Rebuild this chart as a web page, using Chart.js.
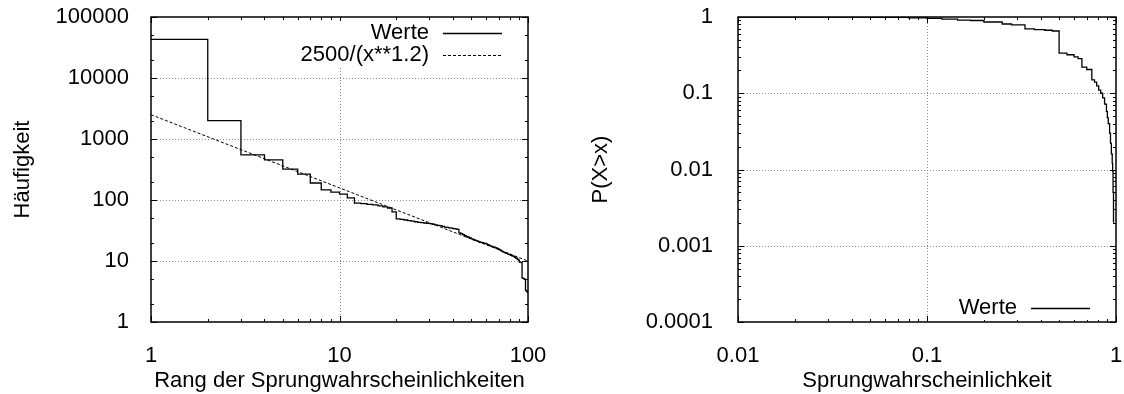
<!DOCTYPE html>
<html>
<head>
<meta charset="utf-8">
<script src="https://cdn.jsdelivr.net/npm/chart.js@4.4.1/dist/chart.umd.min.js"></script>
<style>
  html, body { margin: 0; padding: 0; background: #fff; }
  #wrap { position: relative; width: 1124px; height: 394px; }
  canvas { position: absolute; top: 0; }
</style>
</head>
<body>
<div id="wrap">
  <canvas id="rangPlot" width="562" height="394" style="left:0"></canvas>
  <canvas id="vertPlot" width="562" height="394" style="left:562px"></canvas>
</div>
<script>
// --- Rang der Sprungwahrscheinlichkeiten vs. Häufigkeit ---
const rang = [
  1, 2, 3, 4, 5, 6, 7, 8, 9, 10,
  11, 12, 13, 14, 15, 16, 17, 18, 19, 20,
  21, 22, 23, 24, 25, 26, 27, 28, 29, 30,
  31, 32, 33, 34, 35, 36, 37, 38, 39, 40,
  41, 42, 43, 44, 45, 46, 47, 48, 49, 50,
  51, 52, 53, 54, 55, 56, 57, 58, 59, 60,
  61, 62, 63, 64, 65, 66, 67, 68, 69, 70,
  71, 72, 73, 74, 75, 76, 77, 78, 79, 80,
  81, 82, 83, 84, 85, 86, 87, 88, 89, 90,
  91, 92, 93, 94, 95, 96, 97, 98, 99, 100
];
const haeufigkeit = [
  43000, 2000, 550, 455, 320, 265, 190, 146, 135, 125,
  108, 89, 87, 85, 83, 80, 77, 74, 64, 49,
  48, 47, 46, 45, 44, 43, 42.5, 42, 41.5, 41,
  40, 39, 38.5, 38, 37, 36, 35.5, 35, 34.5, 34,
  33.5, 33, 29, 28, 27, 26, 25, 24.5, 24, 23,
  22.5, 22, 21.5, 21, 20.5, 20.2, 20, 19.7, 19.4, 19,
  18.5, 18, 17.7, 17.4, 17, 16.8, 16.5, 16.2, 16, 15.5,
  15, 14.6, 14.2, 14, 13.7, 13.5, 13.3, 13, 12.8, 12.6,
  12.4, 12.2, 12, 11.8, 11.5, 11.2, 11, 10.6, 10.3, 9.6,
  9.5, 9.4, 5.3, 5.2, 5.1, 5, 3.3, 3.2, 3.1, 3
];
const fitX = [1, 10, 100];
const fitY = [2500, 158, 10];
const rangTicksX = [1, 10, 100];
const rangTicksY = [1, 10, 100, 1000, 10000, 100000];

// --- Verteilung der Sprungwahrscheinlichkeit, P(X>x) ---
const sprungP = [
  0.01, 0.05, 0.08, 0.1, 0.12, 0.145, 0.17, 0.2, 0.25, 0.28,
  0.33, 0.37, 0.42, 0.46, 0.5, 0.55, 0.6, 0.63, 0.66, 0.7,
  0.745, 0.77, 0.79, 0.81, 0.83, 0.85, 0.87, 0.89, 0.9, 0.91,
  0.925, 0.935, 0.945, 0.955, 0.96, 0.965, 0.97
];
const anteil = [
  1.0, 0.99, 0.975, 0.96, 0.94, 0.91, 0.9, 0.86, 0.81, 0.79,
  0.70, 0.685, 0.67, 0.655, 0.335, 0.32, 0.30, 0.285, 0.22, 0.205,
  0.15, 0.14, 0.125, 0.11, 0.1, 0.087, 0.072, 0.058, 0.048, 0.04,
  0.03, 0.022, 0.016, 0.012, 0.0095, 0.005, 0.002
];
const vertTicksX = [0.01, 0.1, 1];
const vertTicksY = [0.0001, 0.001, 0.01, 0.1, 1];

Chart.defaults.font.family = '"Liberation Sans", Arial, Helvetica, sans-serif';
Chart.defaults.font.size = 22;
Chart.defaults.color = '#000';

const FONT = '22px "Liberation Sans", Arial, Helvetica, sans-serif';

// gnuplot-artiger Rahmen: gepunktetes Gitter, Rahmen, Ticks innen, Legende rechts
const gnuplotRahmen = {
  id: 'gnuplotRahmen',
  beforeDatasetsDraw(chart) {
    const { ctx, chartArea: a, scales: { x, y } } = chart;
    ctx.save();
    ctx.strokeStyle = '#8a8a8a';
    ctx.lineWidth = 1;
    ctx.setLineDash([1, 2]);
    x.ticks.forEach(t => {
      const px = Math.round(x.getPixelForValue(t.value)) + 0.5;
      if (px <= a.left + 2 || px >= a.right - 2) return;
      ctx.beginPath(); ctx.moveTo(px, a.top); ctx.lineTo(px, a.bottom); ctx.stroke();
    });
    y.ticks.forEach(t => {
      const py = Math.round(y.getPixelForValue(t.value)) + 0.5;
      if (py <= a.top + 2 || py >= a.bottom - 2) return;
      ctx.beginPath(); ctx.moveTo(a.left, py); ctx.lineTo(a.right, py); ctx.stroke();
    });
    ctx.restore();
  },
  afterDatasetsDraw(chart, args, opts) {
    const { ctx, chartArea: a, scales: { x, y } } = chart;
    ctx.save();
    ctx.setLineDash([]);
    ctx.strokeStyle = '#000';
    ctx.lineWidth = 1;

    // Ticks an allen vier Seiten, nach innen
    const tick = (v, len, horiz) => {
      if (horiz) {
        const px = Math.round(x.getPixelForValue(v)) + 0.5;
        ctx.beginPath();
        ctx.moveTo(px, a.bottom); ctx.lineTo(px, a.bottom - len);
        ctx.moveTo(px, a.top); ctx.lineTo(px, a.top + len);
        ctx.stroke();
      } else {
        const py = Math.round(y.getPixelForValue(v)) + 0.5;
        ctx.beginPath();
        ctx.moveTo(a.left, py); ctx.lineTo(a.left + len, py);
        ctx.moveTo(a.right, py); ctx.lineTo(a.right - len, py);
        ctx.stroke();
      }
    };
    x.ticks.forEach((t, i) => {
      tick(t.value, 6, true);
      if (i < x.ticks.length - 1) opts.minorX.forEach(m => tick(t.value * m, 3, true));
    });
    y.ticks.forEach((t, i) => {
      tick(t.value, 6, false);
      if (i < y.ticks.length - 1) opts.minorY.forEach(m => tick(t.value * m, 3, false));
    });

    // Legende: Text rechtsbündig, daneben Linienmuster
    ctx.font = FONT;
    const sets = chart.data.datasets;
    const rowH = 21.5;
    const textEnd = a.right - 99;
    const widest = Math.max(...sets.map(d => ctx.measureText(d.label).width));
    const y0 = opts.anchor === 'top' ? a.top + 16 : a.bottom - 14 - (sets.length - 1) * rowH;
    ctx.fillStyle = '#fff';
    ctx.fillRect(textEnd - widest - 8, y0 - 12, widest + 90, (sets.length - 1) * rowH + 24);
    sets.forEach((d, i) => {
      const ry = y0 + i * rowH;
      ctx.fillStyle = '#000';
      ctx.textAlign = 'right';
      ctx.textBaseline = 'middle';
      ctx.fillText(d.label, textEnd, ry);
      ctx.strokeStyle = d.borderColor;
      ctx.lineWidth = d.borderWidth;
      ctx.setLineDash(d.borderDash || []);
      ctx.beginPath();
      ctx.moveTo(a.right - 85, Math.round(ry) + 0.5);
      ctx.lineTo(a.right - 26, Math.round(ry) + 0.5);
      ctx.stroke();
    });

    // Rahmen
    ctx.setLineDash([]);
    ctx.strokeStyle = '#000';
    ctx.lineWidth = 1.5;
    ctx.strokeRect(a.left, a.top, a.right - a.left, a.bottom - a.top);
    ctx.restore();
  }
};

function logAxis(ticks, title, fitSize, horiz, labelPad, titlePad) {
  return {
    type: 'logarithmic',
    min: ticks[0],
    max: ticks[ticks.length - 1],
    afterBuildTicks: s => { s.ticks = ticks.map(v => ({ value: v })); },
    afterFit: s => {
      // feste Achsenmaße, kein Überhang der Beschriftung
      if (horiz) { s.height = fitSize; s.paddingLeft = 0; s.paddingRight = 0; }
      else { s.width = fitSize; s.paddingTop = 0; s.paddingBottom = 0; }
    },
    grid: { display: false },
    border: { display: false },
    ticks: { padding: labelPad, autoSkip: false, maxRotation: 0, callback: v => String(v) },
    title: {
      display: true, text: title,
      padding: horiz ? { top: 0, bottom: titlePad } : { top: titlePad, bottom: 0 }
    }
  };
}

function makeChart(id, datasets, scales, padRight, rahmen) {
  return new Chart(document.getElementById(id), {
    type: 'line',
    data: { datasets },
    options: {
      responsive: false,
      animation: false,
      devicePixelRatio: 1,
      events: [],
      layout: { padding: { top: 17, right: padRight, left: 0, bottom: 0 } },
      elements: { point: { radius: 0 }, line: { tension: 0 } },
      plugins: { legend: { display: false }, tooltip: { enabled: false }, gnuplotRahmen: rahmen },
      scales
    },
    plugins: [gnuplotRahmen]
  });
}

makeChart('rangPlot', [
  {
    label: 'Werte',
    data: rang.map((r, i) => ({ x: r, y: haeufigkeit[i] })),
    borderColor: '#000', borderWidth: 1.3, stepped: 'before'
  },
  {
    label: '2500/(x**1.2)',
    data: fitX.map((r, i) => ({ x: r, y: fitY[i] })),
    borderColor: '#000', borderWidth: 1, borderDash: [3, 2]
  }
], {
  x: logAxis(rangTicksX, 'Rang der Sprungwahrscheinlichkeiten', 72, true, 13, 0),
  y: logAxis(rangTicksY, 'Häufigkeit', 151, false, 14, 10)
}, 34, { anchor: 'top', minorX: [2, 3, 4, 5, 6, 7, 8, 9], minorY: [2, 5] });

makeChart('vertPlot', [
  {
    label: 'Werte',
    data: sprungP.map((p, i) => ({ x: p, y: anteil[i] })),
    borderColor: '#000', borderWidth: 1.3, stepped: 'before'
  }
], {
  x: logAxis(vertTicksX, 'Sprungwahrscheinlichkeit', 72, true, 13, 0),
  y: logAxis(vertTicksY, 'P(X>x)', 176, false, 17, 26)
}, 8, { anchor: 'bottom', minorX: [2, 3, 4, 5, 6, 7, 8, 9], minorY: [2, 3, 4, 5, 6, 7, 8, 9] });
</script>
</body>
</html>
